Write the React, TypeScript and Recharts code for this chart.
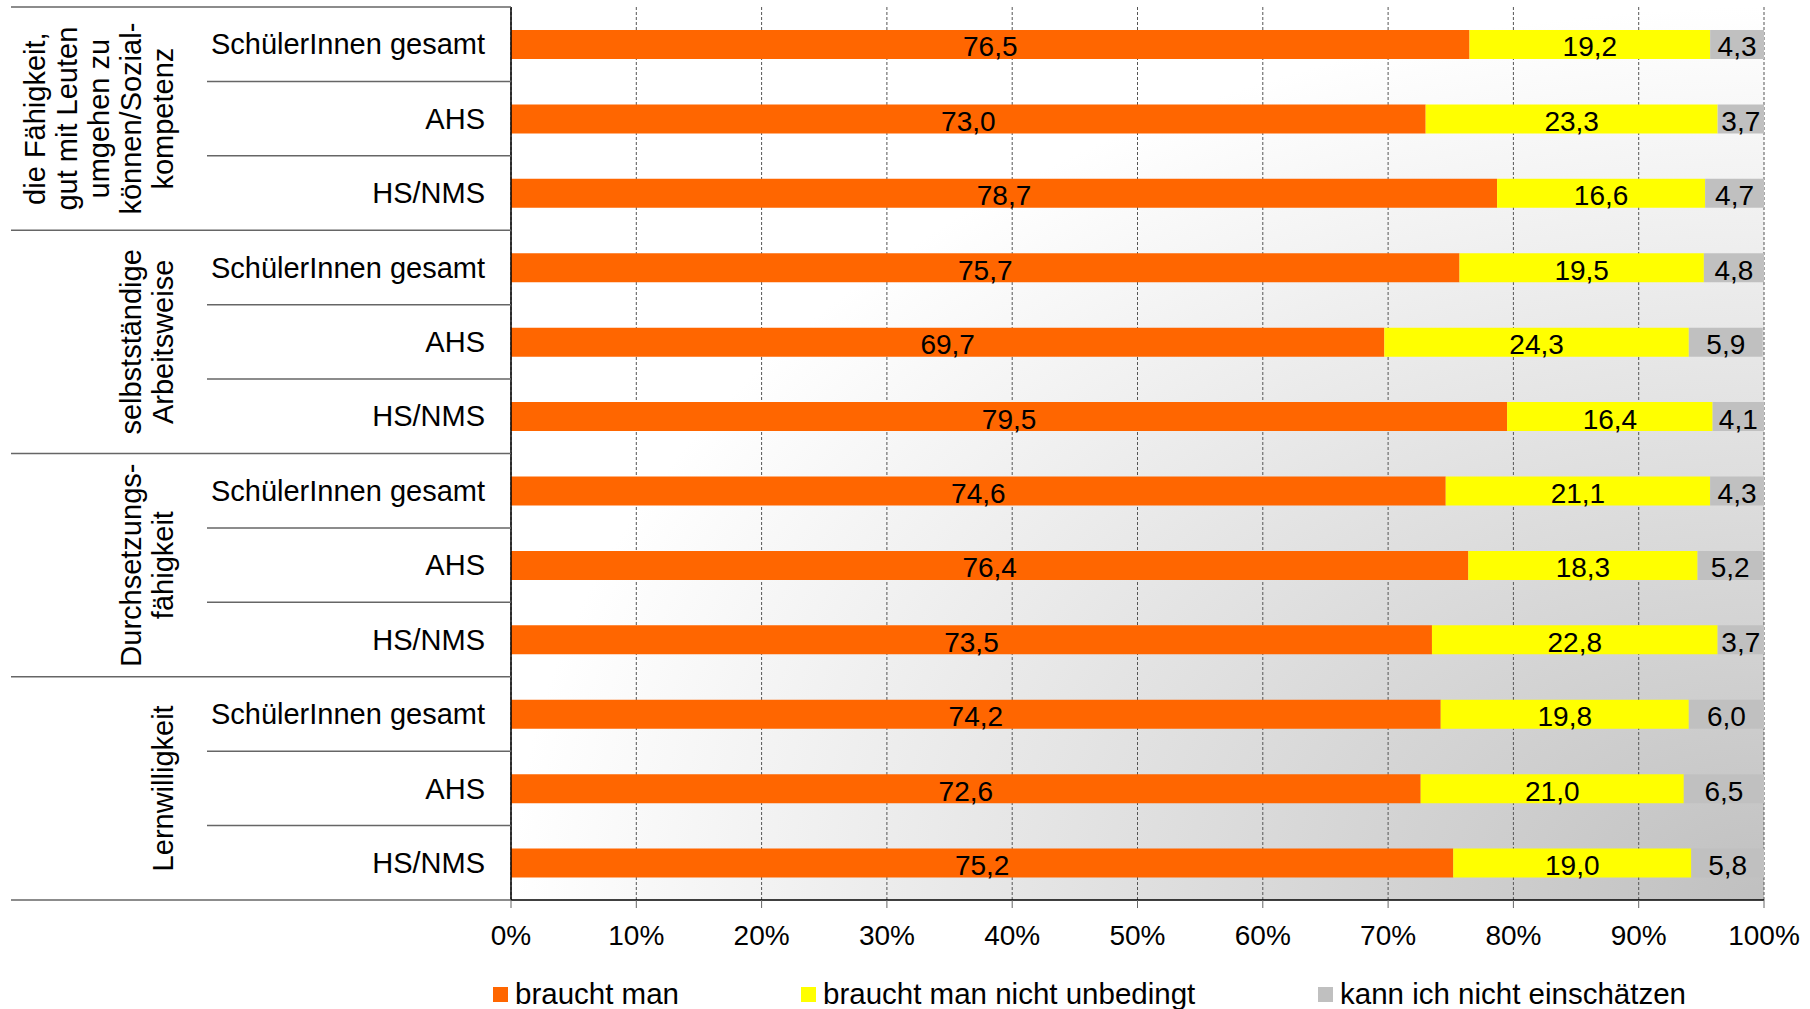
import React from "react";
import { BarChart, Bar, XAxis, YAxis, CartesianGrid, LabelList } from "recharts";

const groupLabels = [
	["die Fähigkeit,", "gut mit Leuten", "umgehen zu", "können/Sozial-", "kompetenz"],
	["selbstständige", "Arbeitsweise"],
	["Durchsetzungs-", "fähigkeit"],
	["Lernwilligkeit"]
];
const schoolTypes = ["SchülerInnen gesamt", "AHS", "HS/NMS"];

const brauchtMan = [76.5, 73.0, 78.7, 75.7, 69.7, 79.5, 74.6, 76.4, 73.5, 74.2, 72.6, 75.2];
const nichtUnbedingt = [19.2, 23.3, 16.6, 19.5, 24.3, 16.4, 21.1, 18.3, 22.8, 19.8, 21.0, 19.0];
const nichtEinschaetzbar = [4.3, 3.7, 4.7, 4.8, 5.9, 4.1, 4.3, 5.2, 3.7, 6.0, 6.5, 5.8];

const xTicks = [0, 10, 20, 30, 40, 50, 60, 70, 80, 90, 100];

const seriesNames = ["braucht man", "braucht man nicht unbedingt", "kann ich nicht einschätzen"];
const seriesColors = ["#FF6600", "#FFFF00", "#C0C0C0"];

const rows = groupLabels.flatMap((g, gi) =>
	schoolTypes.map((s, si) => {
		const i = gi * schoolTypes.length + si;
		return {
			id: `${gi}-${si}`,
			group: gi,
			school: s,
			a: brauchtMan[i],
			b: nichtUnbedingt[i],
			c: nichtEinschaetzbar[i]
		};
	})
);

const W = 1810;
const H = 1009;
const TOP = 7;
const PLOT_BOTTOM = 900;
const AXIS_W = 511;
const BAND = (PLOT_BOTTOM - TOP) / rows.length;
const FONT = "'Liberation Sans', Arial, Helvetica, sans-serif";

const fmt = (v: any) => Number(v).toFixed(1).replace(".", ",");

const RowTick = (props: any) => {
	const { y, payload } = props;
	const i = rows.findIndex((r) => r.id === payload.value);
	if (i < 0) return null;
	const row = rows[i];
	const pos = i % 3;
	const lines = groupLabels[row.group];
	return (
		<g>
			<text x={485} y={y} dy="0.35em" textAnchor="end" fontSize={29} fill="#000">
				{row.school}
			</text>
			{i === 0 && (
				<line x1={11} x2={AXIS_W} y1={y - BAND / 2} y2={y - BAND / 2} stroke="#666" strokeWidth={1.5} />
			)}
			<line
				x1={pos === 2 ? 11 : 207}
				x2={AXIS_W}
				y1={y + BAND / 2}
				y2={y + BAND / 2}
				stroke="#666"
				strokeWidth={1.5}
			/>
			{pos === 1 &&
				lines.map((t, j) => {
					const cx = 163 - (lines.length - 1 - j) * 32;
					return (
						<text
							key={j}
							transform={`translate(${cx},${y}) rotate(-90)`}
							textAnchor="middle"
							dy="0.35em"
							fontSize={29}
							fill="#000"
						>
							{t}
						</text>
					);
				})}
		</g>
	);
};

const legendLefts = [493, 801, 1318];

export default function App() {
	return (
		<div style={{ position: "absolute", left: 0, top: 0, width: W, height: H, fontFamily: FONT, background: "#fff" }}>
			<BarChart
				width={W}
				height={H}
				data={rows}
				layout="vertical"
				margin={{ top: TOP, right: 46, bottom: 0, left: 0 }}
				barSize={29}
				style={{ fontFamily: FONT }}
			>
				<defs>
					<radialGradient id="plotBg" cx="1" cy="1" r="1" fx="1" fy="1">
						<stop offset="0" stopColor="#c0c0c0" />
						<stop offset="1" stopColor="#ffffff" />
					</radialGradient>
				</defs>
				<CartesianGrid
					horizontal={false}
					vertical
					fill="url(#plotBg)"
					stroke="#555"
					strokeDasharray="3 2"
					fillOpacity={1}
				/>
				<XAxis
					type="number"
					domain={[0, 100]}
					ticks={xTicks}
					allowDataOverflow
					height={H - PLOT_BOTTOM}
					tickFormatter={(v) => `${v}%`}
					tick={{ fontSize: 28, fill: "#000" }}
					tickSize={8}
					tickMargin={17}
					axisLine={{ stroke: "#000", strokeWidth: 1.5 }}
					tickLine={{ stroke: "#666" }}
				/>
				<YAxis
					type="category"
					dataKey="id"
					width={AXIS_W}
					interval={0}
					tick={<RowTick />}
					tickLine={false}
					axisLine={{ stroke: "#000", strokeWidth: 1.5 }}
				/>
				{(["a", "b", "c"] as const).map((k, si) => (
					<Bar key={k} dataKey={k} stackId="s" fill={seriesColors[si]} name={seriesNames[si]} isAnimationActive={false}>
						<LabelList dataKey={k} position="center" formatter={fmt} fill="#000" fontSize={28} dy={2} />
					</Bar>
				))}
			</BarChart>
			{seriesNames.map((n, i) => (
				<div
					key={n}
					style={{
						position: "absolute",
						left: legendLefts[i],
						top: 979,
						height: 30,
						display: "flex",
						alignItems: "center",
						fontSize: 29.5,
						color: "#000",
						whiteSpace: "nowrap"
					}}
				>
					<span style={{ display: "inline-block", width: 15, height: 15, background: seriesColors[i], marginRight: 7 }} />
					{n}
				</div>
			))}
		</div>
	);
}
